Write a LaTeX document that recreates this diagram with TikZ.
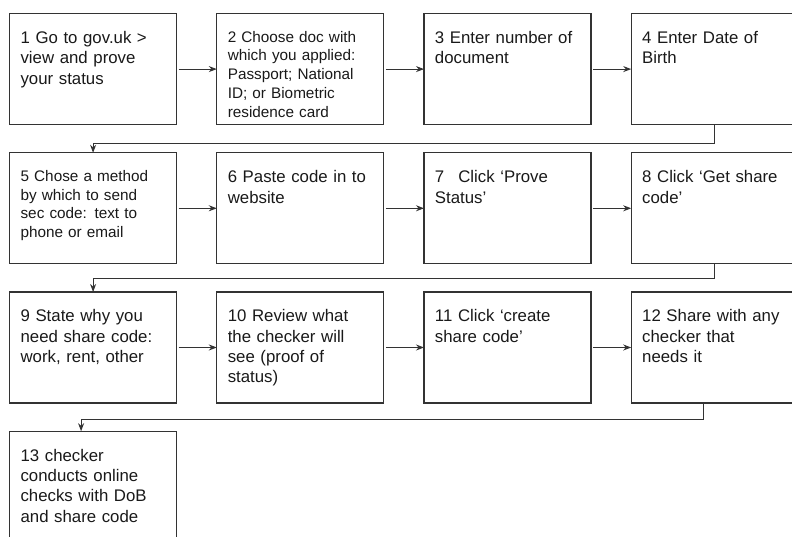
\documentclass[tikz,border=0pt]{standalone}
\usepackage{fontspec}
\setmainfont{Liberation Sans}
\usepackage{tikz}
\usetikzlibrary{arrows.meta,matrix}
\tikzset{>={Stealth[length=8pt,width=6pt]}}
\definecolor{edge}{gray}{0.2}

\begin{document}
\begin{tikzpicture}[x=1pt,y=1pt]
\tikzset{
  flowmatrix/.style={
    matrix of nodes,
    inner sep=0pt,
    outer sep=0pt,
    column sep=39pt,
    row sep=27pt,
    nodes={
      draw=edge,
      line width=1.2pt,
      text=black!90,
      text width=145pt,
      inner xsep=11pt,
      inner ysep=4pt,
      text height=26pt,
      text depth=77pt,
      align=left,
      anchor=center,
      font=\fontsize{16.8pt}{20.3pt}\selectfont
    }
  },
  smallbox/.style={
    text height=24.5pt,
    text depth=78.5pt,
    font=\fontsize{15.3pt}{18.8pt}\selectfont
  }
};

\tikzstyle{link}=[->,draw=edge,line width=1pt]

\useasboundingbox (0,0) rectangle (792,537);
\clip (0,0) rectangle (792,537);

 \matrix (flow) [flowmatrix,anchor=north west] at (9,524)
 {
    {1 Go to gov.uk >\\ view and prove\\ your status} &
    |[smallbox]| {2 Choose doc with\\ which you applied:\\ Passport; National\\ ID; or Biometric\\ residence card} &
    {3 Enter number of\\ document} &
    {4 Enter Date of\\ Birth} \\
    |[smallbox]| {5 Chose a method\\ by which to send\\ sec code: text to\\ phone or email} &
    {6 Paste code in to\\ website} &
    {7\hspace{14pt}Click ‘Prove\\ Status’} &
    {8 Click ‘Get share\\ code’} \\
    {9 State why you\\ need share code:\\ work, rent, other} &
    {10 Review what\\ the checker will\\ see (proof of\\ status)} &
    {11 Click ‘create\\ share code’} &
    {12 Share with any\\ checker that\\ needs it} \\
    {13 checker\\ conducts online\\ checks with DoB\\ and share code} \\
 };

  \draw[link,shorten <=2pt] (flow-1-1) -- (flow-1-2);
  \draw[link,shorten <=2pt] (flow-1-2) -- (flow-1-3);
  \draw[link,shorten <=2pt] (flow-1-3) -- (flow-1-4);
  \draw[link] (flow-1-4.south) -- ++(0,-19) -| (flow-2-1.north);

  \draw[link,shorten <=2pt] (flow-2-1) -- (flow-2-2);
  \draw[link,shorten <=2pt] (flow-2-2) -- (flow-2-3);
  \draw[link,shorten <=2pt] (flow-2-3) -- (flow-2-4);
  \draw[link] (flow-2-4.south) -- ++(0,-15) -| (flow-3-1.north);

  \draw[link,shorten <=2pt] (flow-3-1) -- (flow-3-2);
  \draw[link,shorten <=2pt] (flow-3-2) -- (flow-3-3);
  \draw[link,shorten <=2pt] (flow-3-3) -- (flow-3-4);
  \draw[link] ([xshift=-11pt]flow-3-4.south) -- ++(0,-17) -| ([xshift=-12pt]flow-4-1.north);
\end{tikzpicture}
\end{document}
